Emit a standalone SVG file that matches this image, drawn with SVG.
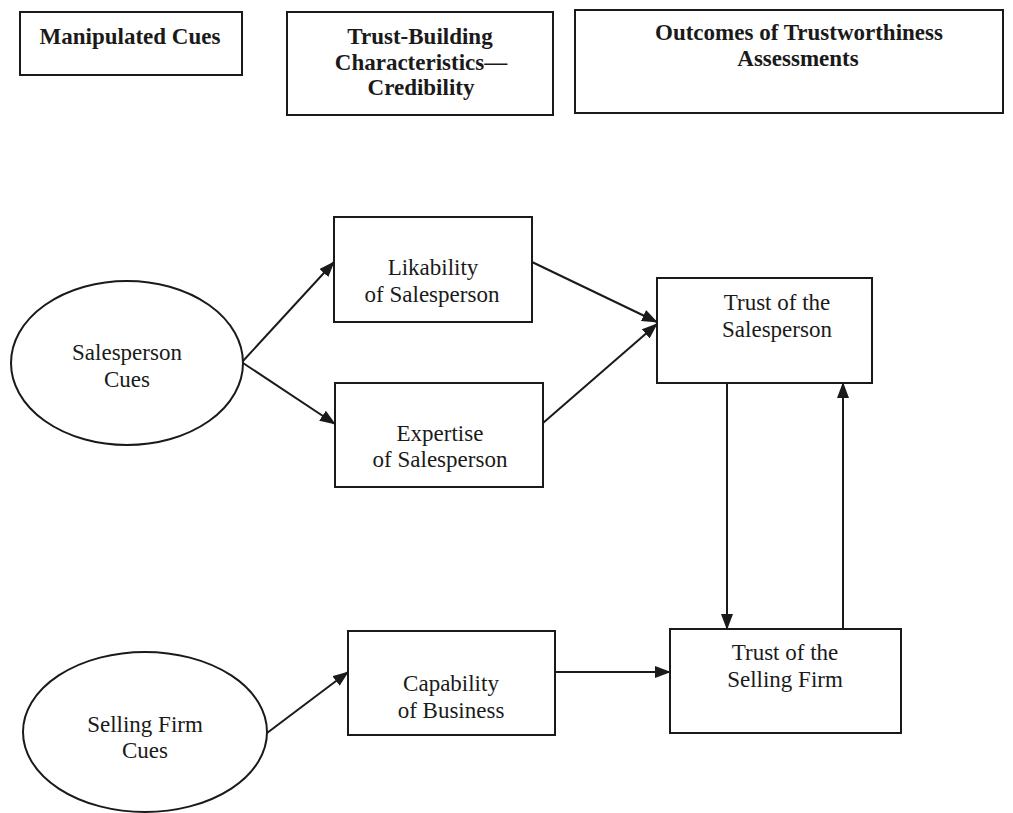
<svg xmlns="http://www.w3.org/2000/svg" width="1013" height="813" viewBox="0 0 1013 813">
<style>
.box{fill:#fff;stroke:#1a1a1a;stroke-width:2}
.hd{font-family:"Liberation Serif","Times New Roman",serif;font-weight:bold;font-size:23px;fill:#1a1a1a;text-anchor:middle}
.tx{font-family:"Liberation Serif","Times New Roman",serif;font-size:23px;fill:#1a1a1a;text-anchor:middle}
.ln{fill:none;stroke:#1a1a1a;stroke-width:2;marker-end:url(#ah)}
</style>
<defs>
<marker id="ah" markerUnits="userSpaceOnUse" markerWidth="16" markerHeight="12" refX="15" refY="6" orient="auto">
<path d="M0,0 L16,6 L0,12 z" fill="#1a1a1a"/>
</marker>
</defs>
<rect width="1013" height="813" fill="#fff"/>
<g id="hdr-manipulated">
<rect class="box" x="20" y="12" width="222" height="63"/>
<text class="hd" x="130" y="44">Manipulated Cues</text>
</g>
<g id="hdr-trustbuilding">
<rect class="box" x="287" y="12" width="266" height="103"/>
<text class="hd" x="420" y="44">Trust-Building</text>
<text class="hd" x="421" y="70">Characteristics—</text>
<text class="hd" x="421" y="95">Credibility</text>
</g>
<g id="hdr-outcomes">
<rect class="box" x="575" y="10" width="428" height="103"/>
<text class="hd" x="799" y="40">Outcomes of Trustworthiness</text>
<text class="hd" x="798" y="66">Assessments</text>
</g>
<g id="salesperson-cues">
<ellipse class="box" cx="127" cy="363" rx="116" ry="82"/>
<text class="tx" x="127" y="360">Salesperson</text>
<text class="tx" x="127" y="387">Cues</text>
</g>
<g id="likability">
<rect class="box" x="334" y="217" width="198" height="105"/>
<text class="tx" x="433" y="275">Likability</text>
<text class="tx" x="432" y="302">of Salesperson</text>
</g>
<g id="expertise">
<rect class="box" x="335" y="383" width="208" height="104"/>
<text class="tx" x="440" y="441">Expertise</text>
<text class="tx" x="440" y="467">of Salesperson</text>
</g>
<g id="trust-salesperson">
<rect class="box" x="657" y="278" width="215" height="105"/>
<text class="tx" x="777" y="310">Trust of the</text>
<text class="tx" x="777" y="337">Salesperson</text>
</g>
<g id="selling-firm-cues">
<ellipse class="box" cx="145" cy="732" rx="122" ry="80"/>
<text class="tx" x="145" y="732">Selling Firm</text>
<text class="tx" x="145" y="758">Cues</text>
</g>
<g id="capability">
<rect class="box" x="348" y="631" width="207" height="104"/>
<text class="tx" x="451" y="691">Capability</text>
<text class="tx" x="451" y="718">of Business</text>
</g>
<g id="trust-firm">
<rect class="box" x="670" y="629" width="231" height="104"/>
<text class="tx" x="785" y="660">Trust of the</text>
<text class="tx" x="785" y="687">Selling Firm</text>
</g>
<g id="connectors">
<line class="ln" x1="243" y1="361" x2="334" y2="262"/>
<line class="ln" x1="243" y1="363" x2="335" y2="424"/>
<line class="ln" x1="532" y1="262" x2="657" y2="322"/>
<line class="ln" x1="543" y1="423" x2="657" y2="324"/>
<line class="ln" x1="727" y1="383" x2="727" y2="629"/>
<line class="ln" x1="843" y1="629" x2="843" y2="383"/>
<line class="ln" x1="267" y1="733" x2="348" y2="672"/>
<line class="ln" x1="555" y1="672" x2="670" y2="672"/>
</g>
</svg>
